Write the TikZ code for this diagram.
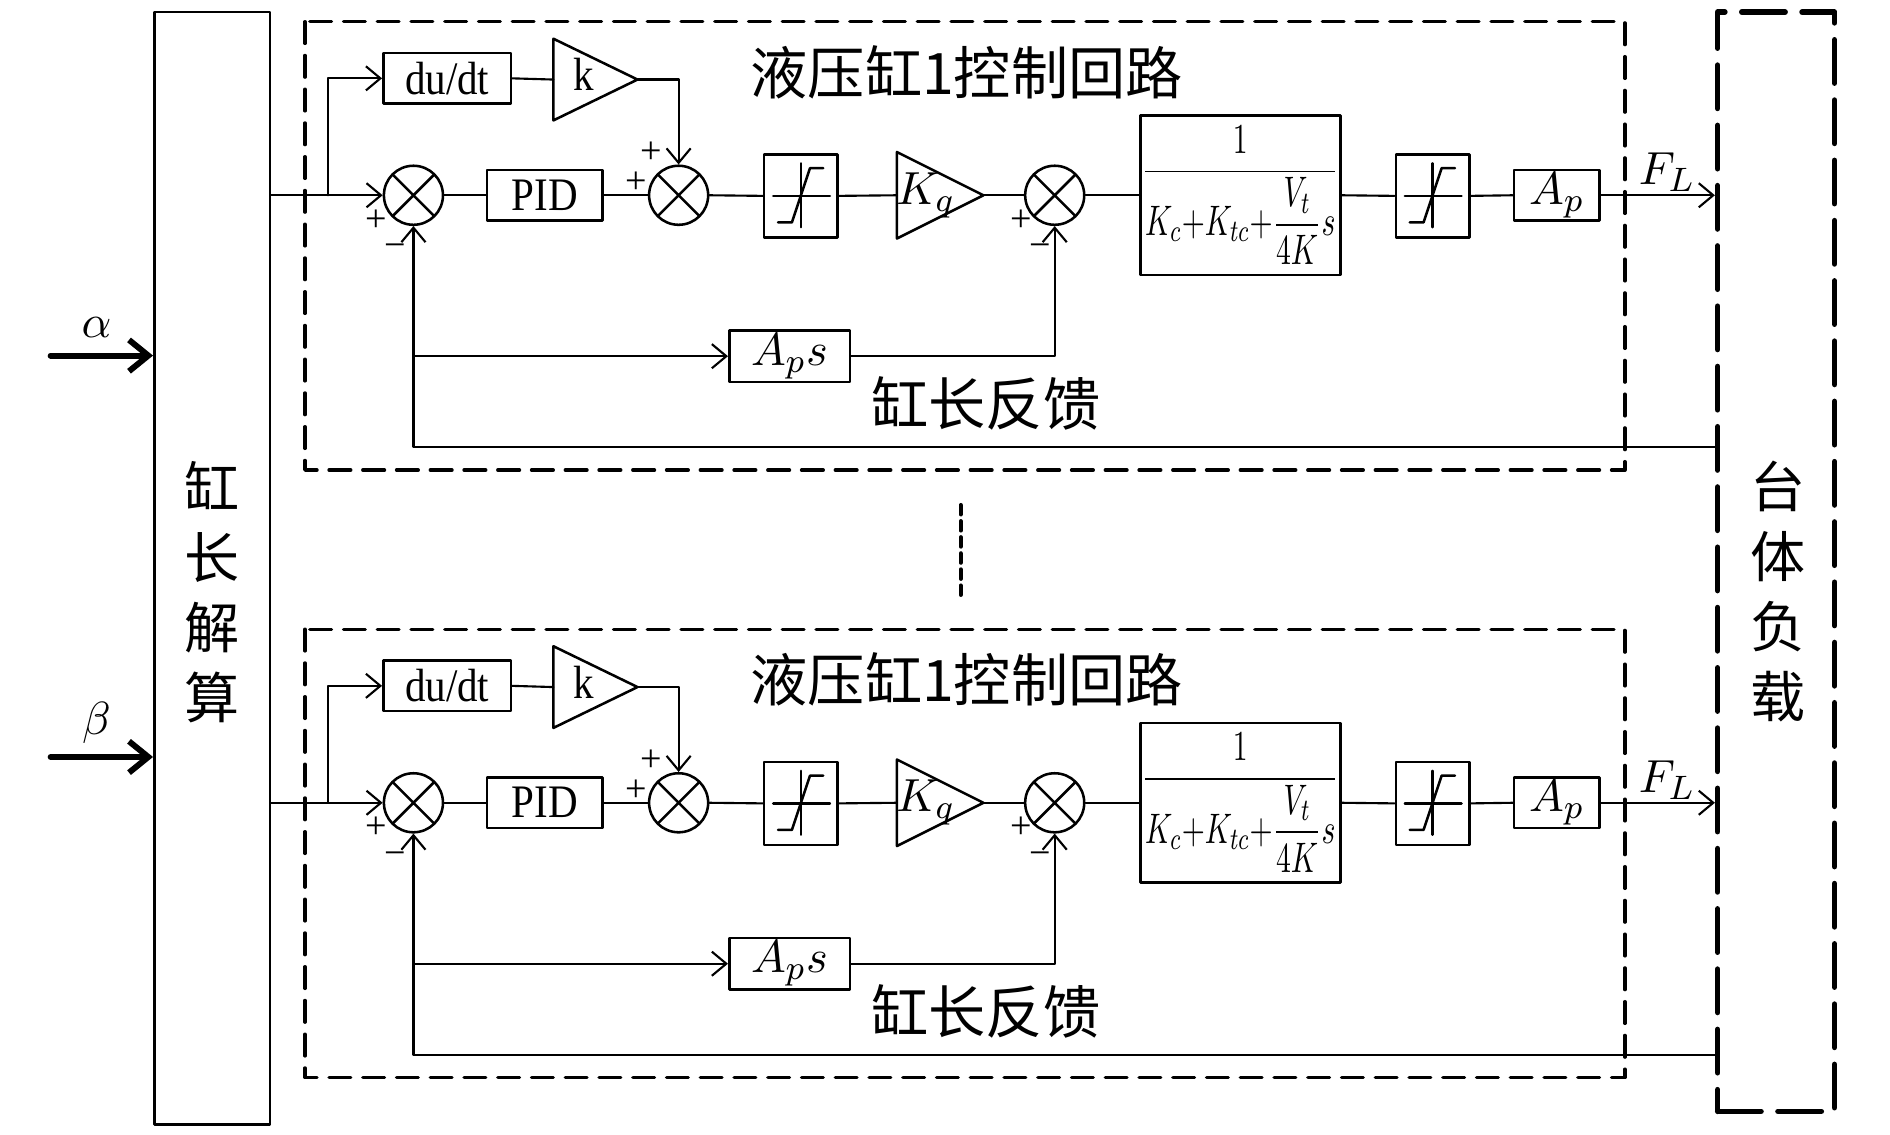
\documentclass[tikz,border=0pt]{standalone}
\usepackage{amsmath}
\usepackage{fontspec}
\setmainfont{Liberation Serif}[FakeStretch=0.88]
\newfontfamily\signfont{Liberation Serif}
\newfontfamily\cjk{Noto Sans CJK SC}
\usetikzlibrary{arrows.meta,calc}

\tikzset{
	blk/.style={draw,line width=0.6pt,inner sep=0pt},
	gainbox/.style={inner sep=0pt,minimum width=0.70cm,minimum height=0.70cm},
	sumnode/.style={draw,circle,line width=0.6pt,minimum size=0.49cm,inner sep=0pt,
		path picture={\draw (path picture bounding box.north west)--(path picture bounding box.south east)
			(path picture bounding box.north east)--(path picture bounding box.south west);}},
	satbox/.style={draw,line width=0.6pt,minimum width=0.61cm,minimum height=0.69cm,inner sep=0pt,
		path picture={\draw ([shift={(-0.23,0)}]path picture bounding box.center)--++(0.47,0);
			\draw ([shift={(0,0.27)}]path picture bounding box.center)--++(0,-0.53);
			\draw ([shift={(-0.19,-0.22)}]path picture bounding box.center)--++(0.115,0)--++(0.15,0.45)--++(0.11,0);}},
	tip/.style={-{Straight Barb[length=1.2mm,width=2.0mm]}},
	boldarrow/.style={line width=1.4pt,-{Straight Barb[length=1.6mm,width=2.6mm]}},
	loopbox/.style={line width=0.8pt,dash pattern=on 0.18cm off 0.10cm},
	cjktext/.style={font=\cjk\fontsize{13.5}{16.5}\selectfont},
	sign/.style={inner sep=0pt,font=\signfont\fontsize{9}{10}\selectfont},
}

\begin{document}
\begin{tikzpicture}[line join=round,line cap=round,font=\fontsize{11}{13}\selectfont,line width=0.5pt]
	\useasboundingbox (0,0) rectangle (15.68,-9.41);
	%%% khoi trai, khoi phai
	\node[draw,line width=0.6pt,minimum width=0.96cm,minimum height=9.23cm] (jiesuan) at (1.76,-4.715) {};
	\node[cjktext,align=center,font=\cjk\fontsize{13}{16.5}\selectfont] (jstext) at (1.76,-4.91) {缸\\长\\解\\算};
	\node[draw,line width=1.3pt,dash pattern=on 0.36cm off 0.14cm,minimum width=0.97cm,minimum height=9.12cm] (taiti) at (14.735,-4.66) {};
	\node[cjktext,align=center,font=\cjk\fontsize{13}{16.5}\selectfont] (tttext) at (14.75,-4.91) {台\\体\\负\\载};
	%%% dau vao
	\coordinate (ain) at (0.42,-2.95);
	\coordinate (bin) at (0.42,-6.28);
	\draw[boldarrow] (ain) -- (ain -| jiesuan.west);
	\draw[boldarrow] (bin) -- (bin -| jiesuan.west);
	\node (alab) at (0.80,-2.72) {$\alpha$};
	\node (blab) at (0.80,-6.00) {$\beta$};
	%%% dau cham giua
	\draw[line width=1pt,dash pattern=on 2.2pt off 1.6pt] (7.97,-4.19) coordinate (dA) -- (7.97,-4.98) coordinate (dB);
	%%% hai vong dieu khien
	\foreach \i/\dy in {1/0,2/5.04}{
	\begin{scope}[yshift=-\dy cm]
		\draw[loopbox] (2.53,-0.18) rectangle (13.48,-3.90);
		\node[cjktext] (title\i) at (8.02,-0.60) {液压缸1控制回路};
		\node[cjktext] (fbtext\i) at (8.18,-3.35) {缸长反馈};
		\node[sumnode] (sumA\i) at (3.43,-1.62) {};
		\node[blk,minimum width=1.06cm,minimum height=0.42cm] (dudt\i) at (3.71,-0.65) {du/dt};
		\node[gainbox,minimum width=0.68cm,minimum height=0.66cm,
			label={[name=klab\i,xshift=-0.10cm,yshift=0.04cm]center:k}] (k\i) at (4.94,-0.66) {};
		\draw[line width=0.6pt] (k\i.north west) -- (k\i.east) -- (k\i.south west) -- cycle;
		\node[blk,minimum width=0.96cm,minimum height=0.42cm] (pid\i) at (4.52,-1.62) {PID};
		\node[sumnode] (sumB\i) at (5.63,-1.62) {};
		\node[satbox] (satA\i) at (6.645,-1.625) {};
		\node[gainbox,label={[name=kqlab\i,xshift=-0.12cm]center:$K_q$}] (kq\i) at (7.80,-1.62) {};
		\draw[line width=0.6pt] (kq\i.north west) -- (kq\i.east) -- (kq\i.south west) -- cycle;
		\node[sumnode] (sumC\i) at (8.75,-1.62) {};
		\node[blk,minimum width=1.66cm,minimum height=1.32cm] (tf\i) at (10.29,-1.62)
			{\scalebox{0.64}[0.92]{$\dfrac{1}{K_c{+}K_{tc}{+}\dfrac{V_t}{4K}s}$}};
		\node[satbox] (satB\i) at (11.885,-1.625) {};
		\node[blk,minimum width=0.71cm,minimum height=0.42cm] (ap\i) at (12.915,-1.62) {$A_p$};
		\node[blk,minimum width=1.00cm,minimum height=0.43cm] (aps\i) at (6.55,-2.955) {$A_p s$};
		%%% dau cong tru
		\node[sign] (pA\i) at (3.12,-1.83) {+};
		\node[sign] (mA\i) at (3.28,-2.08) {−};
		\node[sign] (pB\i) at (5.40,-1.27) {+};
		\node[sign] (pBb\i) at (5.28,-1.52) {+};
		\node[sign] (pC\i) at (8.47,-1.83) {+};
		\node[sign] (mC\i) at (8.63,-2.08) {−};
		%%% duong noi
		\coordinate (br\i) at (2.72,-1.62);
		\coordinate (fb\i) at (14.25,-3.71);
		\draw[tip] (jiesuan.east |- sumA\i) -- (sumA\i.west);
		\draw[tip] (br\i) |- (dudt\i.west);
		\draw (dudt\i.east) -- (k\i.west);
		\draw[tip] (k\i.east) -| (sumB\i.north);
		\draw (sumA\i.east) -- (pid\i.west);
		\draw (pid\i.east) -- (sumB\i.west);
		\draw (sumB\i.east) -- (satA\i.west);
		\draw (satA\i.east) -- (kq\i.west);
		\draw (kq\i.east) -- (sumC\i.west);
		\draw (sumC\i.east) -- (tf\i.west);
		\draw (tf\i.east) -- (satB\i.west);
		\draw (satB\i.east) -- (ap\i.west);
		\draw[tip] (ap\i.east) -- (ap\i -| taiti.west);
		\node (fl\i) at (13.83,-1.43) {$F_L$};
		\draw[tip] (fb\i) -| (sumA\i.south);
		\draw[tip] (sumA\i |- aps\i) -- (aps\i.west);
		\draw[tip] (aps\i.east) -| (sumC\i.south);
	\end{scope}}
\end{tikzpicture}
\end{document}
